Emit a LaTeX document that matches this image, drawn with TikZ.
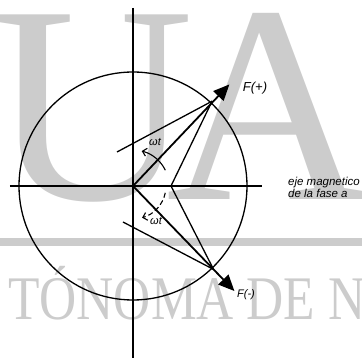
\documentclass[tikz,border=0pt]{standalone}
\usepackage{fontspec}
\setmainfont{Liberation Serif}
\setsansfont{Liberation Sans}
\usetikzlibrary{arrows.meta}
\definecolor{marca}{gray}{0.80}
\begin{document}
\begin{tikzpicture}[x=1pt, y=1pt,
    eje/.style={line width=1.8pt},
    vector/.style={line width=1.8pt, -{Triangle[length=16pt, width=14pt]}},
    linea/.style={line width=1.3pt},
    giro/.style={line width=1.1pt, -{Straight Barb[length=4pt, width=8pt]}},
    etiqueta/.style={font=\sffamily\itshape\fontsize{11.5}{12.5}\selectfont}]
    \useasboundingbox (-133,-172) rectangle (229,186);
    % Marca de agua
    \begin{scope}
        \clip (-133,-172) rectangle (229,186);
        \node[marca, font=\fontsize{282}{282}\selectfont, anchor=base, inner sep=0pt] (letraU) at (-41,-14) {U};
        \node[marca, font=\fontsize{282}{282}\selectfont, anchor=base, inner sep=0pt] (letraA) at (135,-14) {A};
        \fill[marca] (-133,-52) rectangle (229,-60);
        \node[marca, font=\fontsize{62}{62}\selectfont, anchor=base west, inner sep=0pt, xscale=0.83] (lema) at (-125,-134) {TÓNOMA DE N};
    \end{scope}
    % Puntos
    \coordinate (O) at (0,0);
    \coordinate (P) at (47:116);
    \coordinate (Pf) at (46.5:140);
    \coordinate (Q) at (-46:116);
    \coordinate (Qf) at (-46:146);
    \coordinate (R) at (38,0);
    \coordinate (S1) at (-16,34);
    \coordinate (S2) at (-10,-36);
    % Ejes y circulo
    \draw[eje] (0,178) -- (0,-172);
    \draw[eje] (-123,0) -- (129,0);
    \draw[line width=1.3pt] (O) circle (114);
    % Fasores
    \draw[vector] (O) -- (Pf);
    \draw[vector] (O) -- (Qf);
    \draw[linea] (P) -- (S1);
    \draw[linea] (Q) -- (S2);
    \draw[linea] (P) -- (R) -- (Q);
    % Angulos
    \draw[giro] (26:36) arc (26:76:36);
    \draw[giro, dash pattern=on 5pt off 3pt] (-12:33) arc (-12:-74:33);
    % Textos
    \node[font=\sffamily\itshape\fontsize{11}{11}\selectfont] (wt1) at (22,44) {ωt};
    \node[font=\sffamily\itshape\fontsize{11}{11}\selectfont] (wt2) at (23,-35) {ωt};
    \node[font=\sffamily\itshape\fontsize{13}{13}\selectfont] (Fmas) at (122,98) {F(+)};
    \node[font=\sffamily\itshape\fontsize{11}{11}\selectfont] (Fmenos) at (113,-109) {F(-)};
    \node[etiqueta, anchor=base west, align=left, inner sep=0pt] (fase) at (155,-12) {eje magnetico\\de la fase a};
\end{tikzpicture}
\end{document}
